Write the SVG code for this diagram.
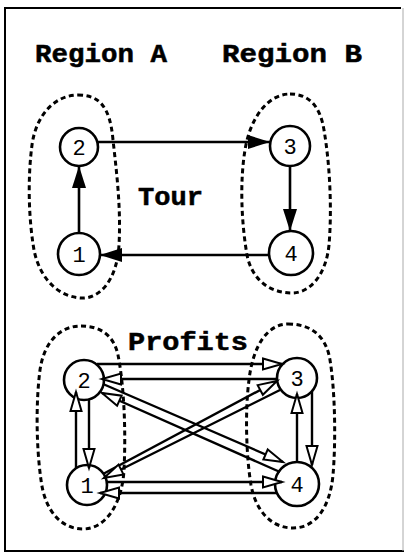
<svg xmlns="http://www.w3.org/2000/svg" width="406" height="554" viewBox="0 0 406 554">
<style>
.frame{fill:none;stroke:#000;stroke-width:2}
.region{fill:none;stroke:#000;stroke-width:3;stroke-dasharray:5 3.5}
.node circle{fill:#fff;stroke:#000;stroke-width:2.6}
.node text{font-family:"Liberation Mono","Courier New",monospace;font-size:22px;text-anchor:middle;fill:#000}
.label{font-family:"Liberation Mono","Courier New",monospace;font-weight:bold;font-size:25px;fill:#000;stroke:#000;stroke-width:0.5}
.solid line{stroke:#000;stroke-width:2.6;marker-end:url(#fill)}
.hollow line{stroke:#000;stroke-width:2.4;marker-end:url(#open)}
</style>
<defs>
<marker id="fill" markerUnits="userSpaceOnUse" viewBox="0 0 22 14" refX="22" refY="7" markerWidth="22" markerHeight="14" orient="auto" overflow="visible">
<path d="M0,0 L22,7 L0,14 Z" fill="#000"/>
</marker>
<marker id="open" markerUnits="userSpaceOnUse" viewBox="0 0 21 12" refX="20" refY="6" markerWidth="21" markerHeight="12" orient="auto" overflow="visible">
<path d="M1,0.5 L20,6 L1,11.5 Z" fill="#fff" stroke="#000" stroke-width="2" stroke-linejoin="miter"/>
</marker>
</defs>
<rect width="406" height="554" fill="#fff"/>
<path class="frame" d="M401,8 H5 V551 H404"/>
<line x1="403" y1="8" x2="403" y2="551" stroke="#aaa" stroke-width="1"/>

<g id="labels">
<text class="label" x="35" y="62" textLength="132" lengthAdjust="spacingAndGlyphs">Region A</text>
<text class="label" x="222" y="62" textLength="140" lengthAdjust="spacingAndGlyphs">Region B</text>
<text class="label" x="138" y="205" textLength="65" lengthAdjust="spacingAndGlyphs">Tour</text>
<text class="label" x="128" y="350" textLength="120" lengthAdjust="spacingAndGlyphs">Profits</text>
</g>

<g id="regions">
<path id="tour-region-a" class="region" d="M78,95 C98,95 110,105 113,140 C117,175 121,210 119,245 C117,280 100,298 83,298 C60,298 40,280 34,250 C28,215 28,175 32,145 C36,115 55,95 78,95 Z"/>
<path id="tour-region-b" class="region" d="M290,94 C308,94 320,105 324,130 C330,165 332,210 329,245 C326,275 310,293 292,293 C270,293 252,280 247,255 C241,220 240,180 245,150 C250,118 268,94 290,94 Z"/>
<path id="profit-region-a" class="region" d="M81,326 C101,326 114,336 118,355 C124,385 126,430 124,470 C122,505 105,529 83,529 C62,529 45,512 41,480 C36,445 36,400 40,370 C44,342 60,326 81,326 Z"/>
<path id="profit-region-b" class="region" d="M288,324 C310,324 326,335 330,360 C335,390 336,440 333,475 C330,508 315,528 293,528 C272,528 256,512 251,485 C246,455 245,410 249,380 C253,345 268,324 288,324 Z"/>
</g>

<g id="tour-node-2" class="node"><circle cx="79" cy="147" r="19"/><text x="79" y="155">2</text></g>
<g id="tour-node-1" class="node"><circle cx="79" cy="254" r="21"/><text x="79" y="262">1</text></g>
<g id="tour-node-3" class="node"><circle cx="290" cy="146" r="20"/><text x="290" y="154">3</text></g>
<g id="tour-node-4" class="node"><circle cx="291" cy="253" r="22"/><text x="291" y="261">4</text></g>

<g id="profit-node-2" class="node"><circle cx="84" cy="380" r="20"/><text x="84" y="388">2</text></g>
<g id="profit-node-1" class="node"><circle cx="87" cy="485" r="20"/><text x="87" y="493">1</text></g>
<g id="profit-node-3" class="node"><circle cx="297" cy="378" r="20"/><text x="297" y="386">3</text></g>
<g id="profit-node-4" class="node"><circle cx="297" cy="484" r="22"/><text x="297" y="492">4</text></g>

<g id="connectors">
<g class="solid">
<line x1="79" y1="233" x2="79" y2="166"/>
<line x1="97" y1="142" x2="270" y2="142"/>
<line x1="290" y1="166" x2="290" y2="231"/>
<line x1="269" y1="255" x2="100" y2="255"/>
</g>
<g class="hollow">
<line x1="97" y1="364" x2="282" y2="364"/>
<line x1="277" y1="379" x2="102" y2="379"/>
<line x1="103" y1="384" x2="283" y2="462"/>
<line x1="280" y1="472" x2="102" y2="393"/>
<line x1="103" y1="474" x2="277" y2="381"/>
<line x1="280" y1="390" x2="104" y2="478"/>
<line x1="106" y1="482" x2="282" y2="482"/>
<line x1="277" y1="493" x2="100" y2="493"/>
<line x1="76" y1="468" x2="76" y2="392"/>
<line x1="89" y1="399" x2="89" y2="468"/>
<line x1="297" y1="462" x2="297" y2="394"/>
<line x1="312" y1="391" x2="312" y2="465"/>
</g>
</g>
</svg>
